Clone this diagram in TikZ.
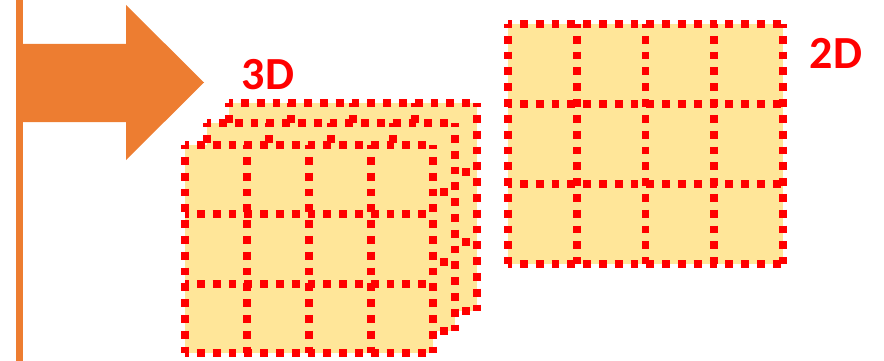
\documentclass[tikz,border=0pt]{standalone}
\usepackage{fontspec}
\setsansfont{Carlito}
\definecolor{orangeline}{HTML}{ED7D31}
\definecolor{cellfill}{HTML}{FFE699}
\tikzset{
  gridline/.style={red, line width=7.8pt, dash pattern=on 7.8pt off 8pt, dash phase=3.9pt},
  dimtext/.style={text=red, font=\sffamily\bfseries\fontsize{46}{46}\selectfont, inner sep=0pt}
}

\begin{document}
\begin{tikzpicture}[x=1pt, y=-1pt]
    \useasboundingbox (0,0) rectangle (884,361);
    % bar and arrow
    \draw[orangeline, line width=7pt] (19.5,0) -- (19.5,361);
    \fill[orangeline] (22,44) -- (126,44) -- (126,5) -- (204,82.5) -- (126,160) -- (126,122) -- (22,122) -- cycle;
    % 3D stack, back to front
    \foreach \dx/\dy in {44/-42, 22/-22, 0/0} {
        \begin{scope}[shift={(\dx,\dy)}]
            \fill[cellfill] (185,145) rectangle (433,353);
            \foreach \c in {0,...,4} \draw[gridline] (185+\c*62,145) -- (185+\c*62,353);
            \foreach \r in {0,...,3} \draw[gridline] (185,145+\r*69.33) -- (433,145+\r*69.33);
        \end{scope}
    }
    % 2D grid
    \fill[cellfill] (508,24) rectangle (783,264);
    \foreach \c in {0,...,4} \draw[gridline] (508+\c*68.75,24) -- (508+\c*68.75,264);
    \foreach \r in {0,...,3} \draw[gridline] (508,24+\r*80) -- (783,24+\r*80);
    \node[dimtext] (lbl3d) at (268,75) {3D};
    \node[dimtext] (lbl2d) at (836,53) {2D};
\end{tikzpicture}
\end{document}
